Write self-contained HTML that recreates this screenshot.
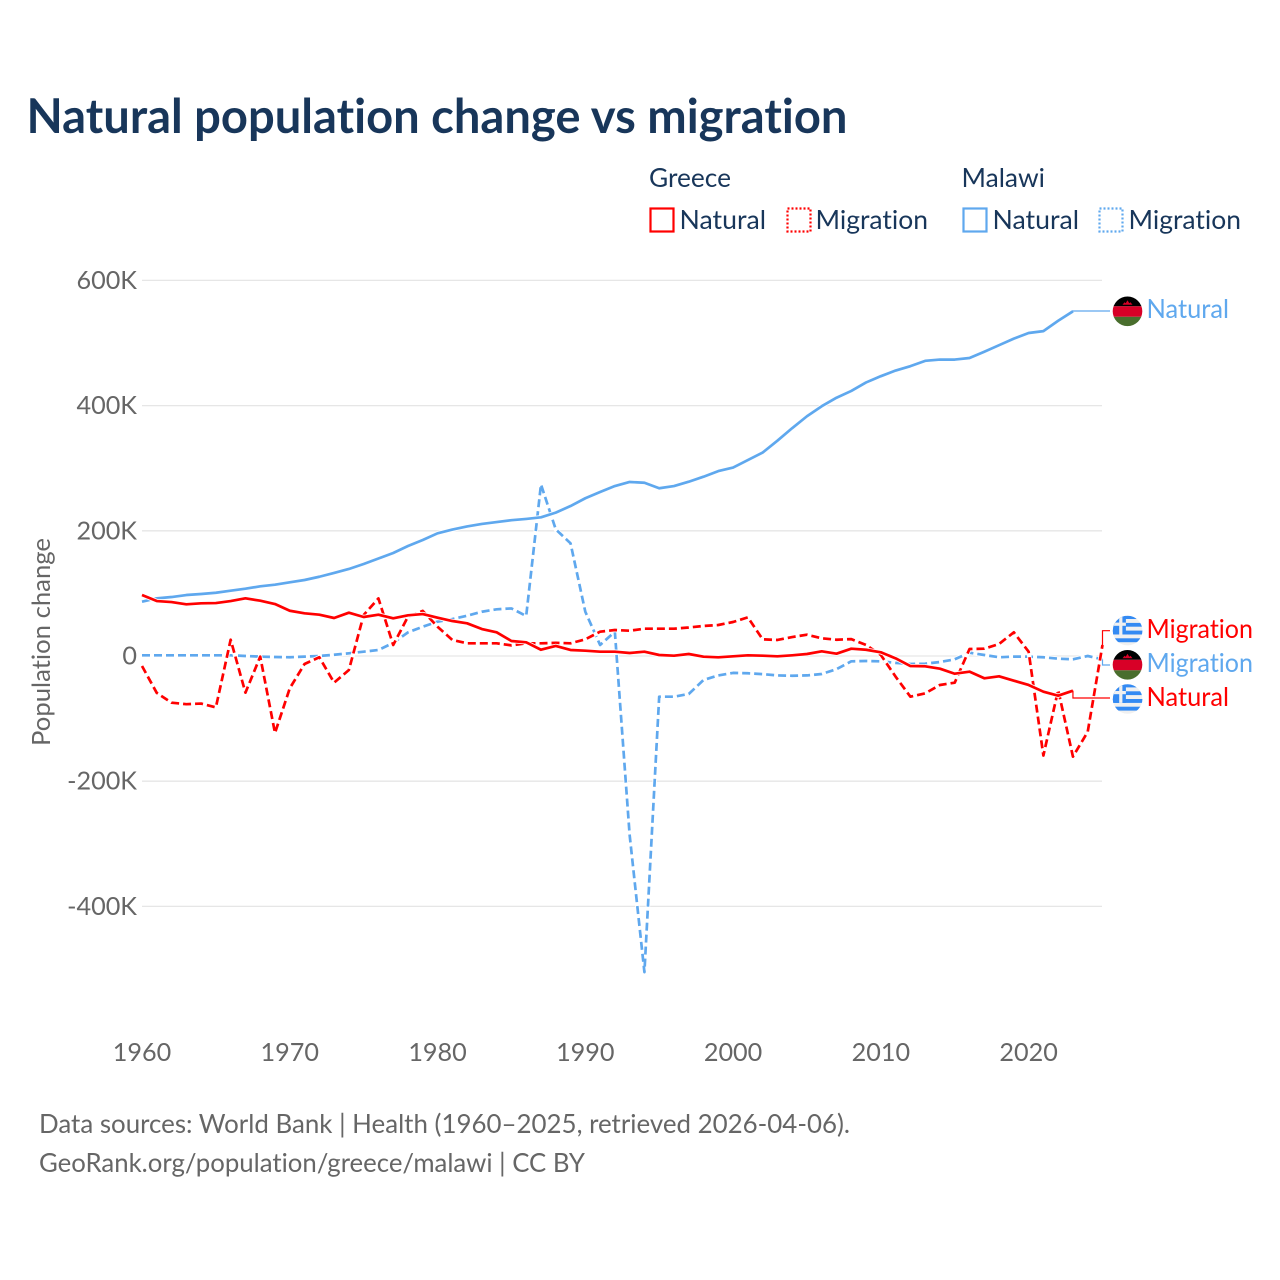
<!DOCTYPE html>
<html lang="en">
<head>
<meta charset="utf-8">
<title>Natural population change vs migration</title>
<style>
  html,body{margin:0;padding:0;background:#fff;}
  svg{display:block;font-family:"Lato","Carlito","Liberation Sans",sans-serif;font-variant-ligatures:none;font-feature-settings:"liga" 0,"clig" 0;}
</style>
</head>
<body>
<svg id="chart" width="1280" height="1280" viewBox="0 0 1280 1280" xmlns="http://www.w3.org/2000/svg">
  <defs>
    <clipPath id="flag-clip"><circle cx="0" cy="0" r="14.8"/></clipPath>
    <g id="flag-greece">
      <g clip-path="url(#flag-clip)">
        <rect x="-15" y="-15" width="30" height="30" fill="#f0f0f0"/>
        <rect x="-15" y="-15" width="30" height="3.4" fill="#338af3"/>
        <rect x="-15" y="-7.7" width="30" height="3.8" fill="#338af3"/>
        <rect x="-15" y="0" width="30" height="3.9" fill="#338af3"/>
        <rect x="-15" y="7.7" width="30" height="3.9" fill="#338af3"/>
        <rect x="-15" y="-15" width="13.3" height="18.9" fill="#338af3"/>
        <rect x="-8.4" y="-15" width="3.2" height="18.9" fill="#f0f0f0"/>
        <rect x="-15" y="-8" width="13.3" height="3.2" fill="#f0f0f0"/>
      </g>
    </g>
    <g id="flag-malawi">
      <g clip-path="url(#flag-clip)">
        <rect x="-15" y="-15" width="30" height="10" fill="#000"/>
        <rect x="-15" y="-5" width="30" height="10.5" fill="#d80027"/>
        <rect x="-15" y="5.5" width="30" height="10" fill="#496e2d"/>
        <path d="M-5,-6.5 L-3,-9 L-1.8,-8 L0,-11 L1.8,-8 L3,-9 L5,-6.5 Z" fill="#d80027"/>
      </g>
    </g>
  </defs>

  <text x="26.5" y="133" font-size="48" font-weight="700" fill="#18365a" textLength="821" lengthAdjust="spacingAndGlyphs">Natural population change vs migration</text>

  <g font-size="26" fill="#18365a">
    <text x="649" y="187" textLength="82" lengthAdjust="spacingAndGlyphs">Greece</text>
    <text x="961.5" y="187" textLength="83.5" lengthAdjust="spacingAndGlyphs">Malawi</text>
    <rect x="650.5" y="208.5" width="23" height="23" fill="none" stroke="#ff0000" stroke-width="2.2"/>
    <text x="679.5" y="229" textLength="86.5" lengthAdjust="spacingAndGlyphs">Natural</text>
    <rect x="787.5" y="208.5" width="23" height="23" fill="none" stroke="#ff0000" stroke-width="2.2" stroke-dasharray="2,2"/>
    <text x="815.5" y="229" textLength="112.5" lengthAdjust="spacingAndGlyphs">Migration</text>
    <rect x="963.5" y="208.5" width="23" height="23" fill="none" stroke="#5fa8ee" stroke-width="2.2"/>
    <text x="992.5" y="229" textLength="86.5" lengthAdjust="spacingAndGlyphs">Natural</text>
    <rect x="1099.5" y="208.5" width="23" height="23" fill="none" stroke="#5fa8ee" stroke-width="2.2" stroke-dasharray="2,2"/>
    <text x="1128.5" y="229" textLength="112.5" lengthAdjust="spacingAndGlyphs">Migration</text>
  </g>

  <g id="grid"></g>
  <g id="y-ticks"></g>
  <g id="x-ticks"></g>
  <text transform="translate(50,642) rotate(-90)" text-anchor="middle" font-size="25" fill="#666666" textLength="208" lengthAdjust="spacingAndGlyphs">Population change</text>

  <g id="series"></g>
  <g id="connectors"></g>

  <use href="#flag-malawi" x="1127.5" y="311.3"/>
  <use href="#flag-greece" x="1127.6" y="630.6"/>
  <use href="#flag-malawi" x="1127.5" y="664.8"/>
  <use href="#flag-greece" x="1127.6" y="699"/>

  <g font-size="26">
    <text x="1146.5" y="318" fill="#5fa8ee" textLength="82.5" lengthAdjust="spacingAndGlyphs">Natural</text>
    <text x="1146.5" y="638" fill="#ff0000" textLength="106.5" lengthAdjust="spacingAndGlyphs">Migration</text>
    <text x="1146.5" y="672" fill="#5fa8ee" textLength="106.5" lengthAdjust="spacingAndGlyphs">Migration</text>
    <text x="1146.5" y="706" fill="#ff0000" textLength="82.5" lengthAdjust="spacingAndGlyphs">Natural</text>
  </g>

  <g font-size="26" fill="#666666">
    <text x="39" y="1133" textLength="811" lengthAdjust="spacingAndGlyphs">Data sources: World Bank | Health (1960–2025, retrieved 2026-04-06).</text>
    <text x="39" y="1172" textLength="546" lengthAdjust="spacingAndGlyphs">GeoRank.org/population/greece/malawi | CC BY</text>
  </g>
</svg>

<script>
// Values in thousands of people, one entry per year from startYear.
var startYear = 1960;
var xTickYears = [1960, 1970, 1980, 1990, 2000, 2010, 2020];
var yTickValues = [600, 400, 200, 0, -200, -400];
var yTickLabels = ["600K", "400K", "200K", "0", "-200K", "-400K"];

var greeceNatural = [97.4,87.8,86.2,82.6,84.2,84.6,87.8,92.1,88.3,83,72.3,68.2,66,60.7,69.2,62.3,66,60.2,65,67,
  61.2,55.9,52.2,43.1,37.8,24,21.9,10,16,9.6,8.5,6.9,6.9,4.8,6.9,1.6,0.5,3.2,-1.1,-2.1,
  -0.5,1.1,0.5,-0.5,1.1,3.2,7.5,3.7,11.7,10,5.9,-3.7,-16,-16.4,-20.3,-28.3,-25,-35.6,-32.4,-39.4,-46.3,-57,-63.4,-55.4];

var greeceMigration = [-16,-59,-74.6,-77,-76,-82,26,-58.6,-1,-123,-51.6,-12.8,-2,-42.6,-22.4,65.5,92,17.6,62.8,72,
  46.8,25.6,20.3,20.3,20.3,17,20.3,20.3,21,20.3,26.7,38.8,41.5,40.4,43.6,43.6,43.6,45.5,48,49.5,
  54.3,61.8,26.7,25.6,30.3,34,28.3,26,27,17.6,1.6,-33,-65,-59.6,-46.3,-42.6,11.2,11.7,19.2,37.8,6.9,-159,-54.3,-160.8,-121,17.6];

var malawiNatural = [86.7,92.1,94.2,97.4,99,101,104.3,107.5,111.3,113.9,117.7,121.4,126.6,132.6,139,147,155.7,164.5,175.7,185.3,
  196,202,207,211,214,217,219,221.5,229,239.6,252,262,271.5,278,276.8,268,271.5,278.4,286.4,295.4,
  301,313,325,344,364,383,399,412.6,423.4,437,447,456,463,471.5,473.5,473.5,476,486,496.5,507,516,519,535.5,550.6];

var malawiMigration = [1.1,1.1,1.1,1.1,1.1,1.1,1.1,0,-1,-1.6,-2,-1,0,2,4.3,6.9,9.6,21,37.8,46.8,
  54.8,59,64.4,70.7,74.6,76,64,274,202.3,180,70.7,17.6,38.8,-286,-505,-65,-65,-60.7,-38.3,-31,
  -27,-27.6,-29,-31,-31.5,-31,-28.7,-21,-8.5,-8,-8.5,-11,-12.8,-12.3,-9.6,-5.3,5.3,1.6,-2,-1,-1,-2,-4.3,-5.3,0,-5.3];

var NS = "http://www.w3.org/2000/svg";
var BLUE = "#5fa8ee", RED = "#ff0000";

function xScale(year) { return 142 + (year - 1960) * (1102.5 - 142) / 65; }
function yScale(v) { return 656 - v * 0.626; }

var gridG = document.getElementById("grid");
var yG = document.getElementById("y-ticks");
yTickValues.forEach(function (v, i) {
  var g = document.createElementNS(NS, "line");
  
  
  g.setAttribute("x1", 142);
  g.setAttribute("x2", 1102);
  g.setAttribute("y1", yScale(v));
  g.setAttribute("y2", yScale(v));
  g.setAttribute("stroke", "#e6e6e6");
  g.setAttribute("stroke-width", 1.3);
  gridG.appendChild(g);

  var t = document.createElementNS(NS, "text");
  
  
  t.setAttribute("x", 137);
  t.setAttribute("y", yScale(v) + 8.5);
  t.setAttribute("text-anchor", "end");
  t.setAttribute("font-size", "25.2");
  t.setAttribute("fill", "#666666");
  t.textContent = yTickLabels[i];
  yG.appendChild(t);
});

var xG = document.getElementById("x-ticks");
xTickYears.forEach(function (yr) {
  var t = document.createElementNS(NS, "text");
  
  
  t.setAttribute("x", xScale(yr));
  t.setAttribute("y", 1061);
  t.setAttribute("text-anchor", "middle");
  t.setAttribute("font-size", "25.2");
  t.setAttribute("fill", "#666666");
  t.textContent = String(yr);
  xG.appendChild(t);
});

function linePath(values) {
  return values.map(function (v, i) {
    return (i ? "L" : "M") + xScale(startYear + i).toFixed(2) + "," + yScale(v).toFixed(2);
  }).join(" ");
}

var seriesG = document.getElementById("series");
function drawSeries(name, values, color, dash) {
  var halo = document.createElementNS(NS, "path");
  
  
  halo.setAttribute("d", linePath(values));
  halo.setAttribute("fill", "none");
  halo.setAttribute("stroke", "#ffffff");
  halo.setAttribute("stroke-width", 4.4);
  halo.setAttribute("stroke-linejoin", "round");
  seriesG.appendChild(halo);

  var p = document.createElementNS(NS, "path");
  
  
  p.setAttribute("d", linePath(values));
  p.setAttribute("fill", "none");
  p.setAttribute("stroke", color);
  p.setAttribute("stroke-width", 2.7);
  p.setAttribute("stroke-linejoin", "round");
  if (dash) { p.setAttribute("stroke-dasharray", dash); }
  seriesG.appendChild(p);
}
drawSeries("line-malawi-migration", malawiMigration, BLUE, "8,4");
drawSeries("line-malawi-natural", malawiNatural, BLUE, null);
drawSeries("line-greece-migration", greeceMigration, RED, "8,4");
drawSeries("line-greece-natural", greeceNatural, RED, null);

var connG = document.getElementById("connectors");
function drawConnector(name, values, labelY, color) {
  var last = values.length - 1;
  var x = xScale(startYear + last);
  var y = yScale(values[last]);
  var c = document.createElementNS(NS, "path");
  
  
  c.setAttribute("d", "M" + x + "," + y + " L" + x + "," + labelY + " L1110," + labelY);
  c.setAttribute("fill", "none");
  c.setAttribute("stroke", color);
  c.setAttribute("stroke-width", 1.2);
  connG.appendChild(c);
}
drawConnector("connector-malawi-natural", malawiNatural, 311, BLUE);
drawConnector("connector-greece-migration", greeceMigration, 630.7, RED);
drawConnector("connector-malawi-migration", malawiMigration, 665, BLUE);
drawConnector("connector-greece-natural", greeceNatural, 698, RED);
</script>
</body>
</html>
